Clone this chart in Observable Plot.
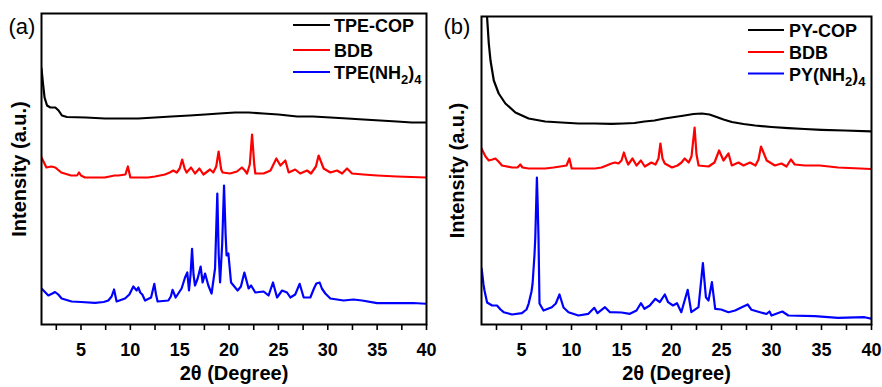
<!DOCTYPE html>
<html>
<head>
<meta charset="utf-8">
<script src="https://cdn.jsdelivr.net/npm/d3@7"></script>
<script src="https://cdn.jsdelivr.net/npm/@observablehq/plot@0.6"></script>
<style>
  html, body { margin: 0; padding: 0; background: #fff; }
  #wrap { display: flex; width: 882px; height: 387px; }
  svg { display: block; }
</style>
</head>
<body>
<div id="wrap"></div>
<script>
// ---- tick values ----
const majorTicks = [5, 10, 15, 20, 25, 30, 35, 40];
const minorTicks = [2.5, 7.5, 12.5, 17.5, 22.5, 27.5, 32.5, 37.5];

// ---- series labels ----
const labelsA = ["TPE-COP", "BDB", "TPE(NH2)4"];
const labelsB = ["PY-COP", "BDB", "PY(NH2)4"];
const colors = ["#000000", "#ff0000", "#0000ff"];

// ---- panel (a): [2θ, intensity (a.u., offset)] ----
const tpeCop = [[1.0,256],[1.08,248],[1.15,241],[1.31,227],[1.56,219],[1.9,217],[2.4,217],[2.73,214],[3.07,209],[3.58,207.5],[5.5,207],[7.43,206],[9,206],[10.8,206],[12.5,207],[14.15,208],[16,209],[17.57,210],[19,211],[20.6,212],[22,212],[23.47,211],[25,210],[26.9,208],[28.5,208],[30.26,207],[32,206],[33.6,205],[35.3,204],[37.0,203],[38.5,202],[40,202]];

const bdbA = [[1.0,167],[1.5,157],[2.0,158],[2.4,157],[3.0,152],[4.0,149],[4.6,149],[4.8,152],[5.0,149],[5.4,147],[6.5,147],[7.4,147],[8.4,149],[8.8,149],[9.5,150],[9.75,158],[10.0,147],[11,147],[11.8,147],[12.5,148],[13.5,150],[14.0,152],[14.35,154],[14.7,152],[15.0,156],[15.25,165],[15.5,156],[15.7,152],[16.15,157],[16.55,151],[17.0,156],[17.4,150],[18.07,155],[18.4,152],[18.7,158],[18.94,173],[19.2,155],[19.35,152],[20.1,151],[20.8,153],[21.3,157],[21.6,154],[21.82,151],[22.1,160],[22.33,190],[22.55,160],[22.66,151],[23.5,151],[24.2,154],[24.79,166],[25.2,159],[25.7,164],[26.04,152],[26.7,155],[27.2,151],[27.9,154],[28.3,151],[28.8,158],[29.07,169],[29.58,156],[30.26,152],[30.94,154],[31.45,151],[31.95,156],[32.46,151],[33.6,150],[35,149],[37,148],[40,147]];

const tpeNH2 = [[1.0,36],[1.3,33],[1.69,29],[2.1,31],[2.37,32.5],[2.7,30],[3.04,26],[4.05,23],[5,22.5],[6.42,21.7],[7.3,22.5],[7.77,24],[8.1,28],[8.35,35],[8.5,28],[8.61,23],[9.46,26],[9.9,30],[10.3,38],[10.64,34],[10.81,37],[11.0,32],[11.21,30],[11.49,24],[12.1,27],[12.43,40.7],[12.6,30],[12.76,23],[13.85,24],[14.1,28],[14.28,34.7],[14.59,27],[15.19,36],[15.54,47],[15.77,52],[15.94,34],[16.1,50],[16.25,75.7],[16.4,50],[16.55,39],[16.82,46],[17.12,58],[17.32,42],[17.57,51],[17.9,39],[18.23,31],[18.58,56],[18.81,131],[18.95,70],[19.09,42],[19.3,80],[19.49,139],[19.65,90],[19.75,69],[19.93,71],[20.2,42],[20.87,34],[21.2,38],[21.55,52],[21.98,36],[22.23,39],[22.66,32],[23.5,33],[24.0,29],[24.45,42],[24.86,27],[25.37,34],[25.87,32],[26.21,27],[26.7,30],[27.15,40.7],[27.56,27],[28.23,27],[28.6,36],[28.84,41],[29.18,42],[29.4,36],[29.75,31],[30.26,26],[31.6,24],[32.6,25],[33.47,24],[35,21.3],[37,21.3],[38.6,21.5],[40,20.7]];

// ---- panel (b) ----
const pyCop = [[1.3,340],[1.45,316],[1.56,307],[1.73,281],[1.9,264],[2.23,244],[2.72,231],[3.39,221],[4.39,212],[5.71,206],[7.37,203],[9,202],[10.7,201],[12.3,201],[14.0,200.7],[15.2,201],[16.3,201.5],[17.3,203],[18.3,204],[19.3,206],[20.3,207.5],[21.3,209],[22.2,210.5],[23.04,211],[23.8,210],[24.37,208],[25.2,205],[26.03,202.5],[27.2,200.5],[28.36,199],[30,197.5],[31.68,196.3],[33.3,195.5],[35,194.7],[37.3,194],[40,193.2]];

const bdbB = [[1.0,176],[1.4,168],[1.73,164],[2.1,165],[2.39,166],[2.7,163],[3.05,159],[4.05,157],[4.6,157],[4.88,160],[5.1,157],[5.71,156],[7.37,156],[8.2,157],[8.87,158],[9.5,159],[9.79,166],[10.02,156],[11,156],[12.35,156],[13.0,157],[13.51,159],[14.0,161],[14.35,162],[14.7,161],[15.0,164],[15.24,172],[15.5,164],[15.67,160],[16.1,166],[16.5,159],[16.94,164],[17.33,158],[17.99,162],[18.4,160],[18.7,166],[18.89,181],[19.1,166],[19.33,161],[20.05,157],[20.6,159],[21.0,162],[21.32,166],[21.72,162],[22.0,168],[22.31,197],[22.5,170],[22.71,159],[23.71,158],[24.3,162],[24.76,174],[25.2,164],[25.7,171],[26.03,159],[26.7,162],[27.2,159],[27.85,162],[28.4,159],[28.7,165],[28.95,178],[29.52,164],[30.34,159],[31.0,161],[31.5,158],[31.94,165],[32.33,160],[33.33,159],[34.83,159],[36.66,157],[40,155.5]];

const pyNH2 = [[1.0,56],[1.06,52],[1.2,40],[1.3,34],[1.56,22],[2.06,19],[2.55,19],[2.9,15],[3.22,12.3],[4.05,10],[5.04,11.3],[5.5,15],[5.71,20.7],[6.0,33],[6.11,41],[6.3,70],[6.38,87],[6.54,147],[6.62,120],[6.7,87],[6.8,21],[7.2,14],[8.03,17.3],[8.43,21],[8.8,30],[9.2,17],[9.7,12.3],[10.69,9],[11.69,10.7],[12.28,16.7],[12.6,11.3],[13.35,17.3],[13.85,12.3],[15.0,12],[15.84,10.7],[16.5,14],[16.94,21.3],[17.3,15.7],[17.83,19],[18.39,25.7],[18.83,22.3],[19.33,30],[19.66,22.3],[20.15,19],[20.55,21.3],[20.98,12.3],[21.62,34.7],[21.98,12.3],[22.7,17.3],[23.14,61.3],[23.44,27.3],[23.7,24],[24.04,42.3],[24.37,15.7],[24.96,15],[25.7,12.3],[26.36,14],[27.03,17.3],[27.62,20],[28.0,14.7],[28.85,12.3],[29.5,10.5],[29.8,13],[30.0,9],[31.08,13],[31.68,9],[34.33,8.3],[36.66,6.7],[39.3,7.3],[40,5.7]];

const FONT = "'Liberation Sans', Arial, Helvetica, sans-serif";

function panel({series, yMax, mLeft, mRight, mTop, tag, tagDx, tagDy, yLabDx}) {
  const marks = [
    ...series.map((s, i) => Plot.line(s, {x: d => d[0], y: d => d[1], stroke: colors[i], strokeWidth: 2.2, clip: true})),
    Plot.frame({stroke: "#000", strokeWidth: 2}),
    Plot.axisX({ticks: minorTicks, tickSize: 6, strokeWidth: 1.6, tickFormat: () => "", label: null}),
    Plot.axisX({ticks: majorTicks, tickSize: 6, tickPadding: 13, strokeWidth: 1.6, tickFormat: d => String(d),
      fontSize: 18, fontWeight: "bold", fill: "#000", label: null}),
    Plot.text(["2θ (Degree)"], {frameAnchor: "bottom", dy: 55, lineAnchor: "bottom", textAnchor: "middle",
      fontSize: 20, fontWeight: "bold", fill: "#000"}),
    Plot.text(["Intensity (a.u.)"], {frameAnchor: "left", rotate: -90, dx: yLabDx, dy: 0, textAnchor: "middle",
      lineAnchor: "bottom", fontSize: 20, fontWeight: "bold", fill: "#000"}),
    Plot.text([tag], {frameAnchor: "top-left", textAnchor: "start", lineAnchor: "bottom",
      dx: tagDx, dy: tagDy, fontSize: 22, fill: "#000"})
  ];
  return Plot.plot({
    width: 441, height: 387,
    marginLeft: mLeft, marginRight: mRight, marginTop: mTop, marginBottom: 63,
    x: {domain: [1, 40]},
    y: {domain: [0, yMax], axis: null},
    style: {fontFamily: FONT, color: "#000", background: "#fff", overflow: "visible"},
    marks
  });
}

function addLegend(svg, x1, x2, tx, rowsY, labels) {
  const g = d3.select(svg).append("g").attr("font-family", FONT).attr("font-weight", "bold")
    .attr("font-size", 18).attr("text-anchor", "start");
  labels.forEach((lab, i) => {
    const y = rowsY[i];
    g.append("line").attr("x1", x1).attr("x2", x2).attr("y1", y).attr("y2", y)
      .attr("stroke", colors[i]).attr("stroke-width", 2.2);
    const t = g.append("text").attr("x", tx).attr("y", y + 7).attr("fill", "#000").attr("text-anchor", "start");
    const m = lab.match(/^(.*)\(NH2\)4$/);
    if (m) {
      t.append("tspan").text(m[1] + "(NH");
      t.append("tspan").attr("font-size", 13).attr("dy", 5).text("2");
      t.append("tspan").attr("dy", -5).text(")");
      t.append("tspan").attr("font-size", 13).attr("dy", 5).text("4");
    } else {
      t.text(lab);
    }
  });
}

const chartA = panel({series: [tpeCop, bdbA, tpeNH2], yMax: 311, mLeft: 41, mRight: 15, mTop: 13,
  tag: "(a)", tagDx: -33, tagDy: 20, yLabDx: -16});
const chartB = panel({series: [pyCop, bdbB, pyNH2], yMax: 308, mLeft: 40, mRight: 11, mTop: 16,
  tag: "(b)", tagDx: -38, tagDy: 17, yLabDx: -18});

addLegend(chartA, 293, 330, 334, [25, 50, 72], labelsA);
addLegend(chartB, 307, 343, 348, [30, 52, 73.5], labelsB);

const wrap = document.getElementById("wrap");
wrap.appendChild(chartA);
wrap.appendChild(chartB);
</script>
</body>
</html>
